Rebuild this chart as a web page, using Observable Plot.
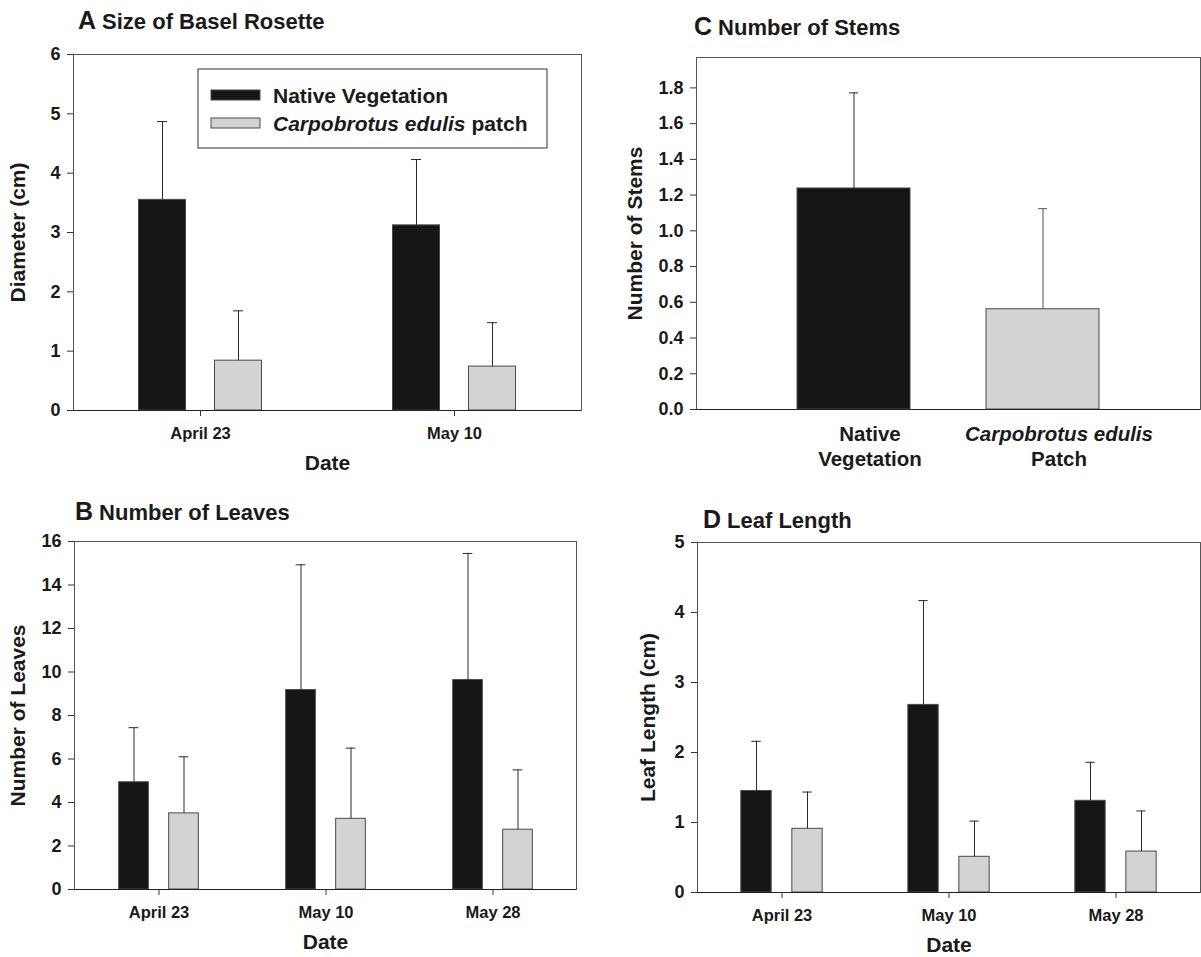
<!DOCTYPE html>
<html>
<head>
<meta charset="utf-8">
<script src="https://cdn.jsdelivr.net/npm/d3@7"></script>
<script src="https://cdn.jsdelivr.net/npm/@observablehq/plot@0.6"></script>
<style>
  body { margin: 0; background: #fff; }
  #root { position: relative; width: 1201px; height: 957px; overflow: hidden; background: #fff; }
  #root svg { position: absolute; overflow: visible; }
</style>
</head>
<body>
<div id="root"></div>
<script>
// ---------------- data ----------------
const seriesNames = ["Native Vegetation", "Carpobrotus edulis patch"];
const datesA = ["April 23", "May 10"];
const datesBD = ["April 23", "May 10", "May 28"];

// A  Size of Basel Rosette (diameter, cm)
const diamNative = [3.55, 3.12];
const diamNativeSE = [1.32, 1.11];
const diamCarpo = [0.84, 0.74];
const diamCarpoSE = [0.84, 0.74];
const ticksA = [0, 1, 2, 3, 4, 5, 6];

// B  Number of Leaves
const leavesNative = [4.93, 9.17, 9.63];
const leavesNativeSE = [2.51, 5.76, 5.82];
const leavesCarpo = [3.50, 3.25, 2.75];
const leavesCarpoSE = [2.60, 3.25, 2.75];
const ticksB = [0, 2, 4, 6, 8, 10, 12, 14, 16];

// C  Number of Stems
const stemCats = ["Native Vegetation", "Carpobrotus edulis Patch"];
const stemLabels = ["Native\nVegetation", "Carpobrotus edulis\nPatch"];
const stemMeans = [1.237, 0.561];
const stemSE = [0.535, 0.563];
const ticksC = [0, 0.2, 0.4, 0.6, 0.8, 1.0, 1.2, 1.4, 1.6, 1.8];

// D  Leaf Length (cm)
const lenNative = [1.45, 2.68, 1.31];
const lenNativeSE = [0.71, 1.49, 0.55];
const lenCarpo = [0.91, 0.51, 0.585];
const lenCarpoSE = [0.525, 0.51, 0.58];
const ticksD = [0, 1, 2, 3, 4, 5];

// ---------------- style ----------------
const FONT = '"Liberation Sans", Arial, Helvetica, sans-serif';
const INK = "#1a1a1a";
const BLACK = "#151515";
const GRAY = "#d3d3d3";
const OUTLINE = "#4a4a4a";
const ERR = "#2a2a2a";

const root = document.getElementById("root");

function place(svg, left, top) {
  svg.style.left = left + "px";
  svg.style.top = top + "px";
  root.appendChild(svg);
}

function addTitle(svg, x, y, letter, text) {
  const t = d3.select(svg).append("text")
    .attr("x", x).attr("y", y).attr("text-anchor", "start")
    .attr("fill", INK).attr("font-weight", "bold").attr("font-family", FONT);
  t.append("tspan").attr("font-size", 25).text(letter);
  t.append("tspan").attr("font-size", 22).attr("dx", 6).text(text);
}

function groupedPanel(o) {
  const n = o.dates.length;
  const step = (o.width - o.ml - o.mr) / n;
  const rows0 = o.dates.map((d, i) => ({date: d, mean: o.native[i], se: o.nativeSE[i]}));
  const rows1 = o.dates.map((d, i) => ({date: d, mean: o.carpo[i], se: o.carpoSE[i]}));
  const half = step / 2;
  const off = o.gap / 2 + o.barW / 2;
  const cap = 5;
  return Plot.plot({
    width: o.width, height: o.height,
    marginLeft: o.ml, marginRight: o.mr, marginTop: o.mt, marginBottom: o.mb,
    style: {fontFamily: FONT, fontWeight: "bold", color: INK, background: "transparent", overflow: "visible"},
    x: {type: "band", domain: o.dates, padding: 0},
    y: {domain: o.yDomain},
    marks: [
      Plot.barY(rows0, {x: "date", y: "mean", fill: BLACK, stroke: OUTLINE, strokeWidth: 1,
        insetLeft: half - o.gap / 2 - o.barW, insetRight: half + o.gap / 2}),
      Plot.barY(rows1, {x: "date", y: "mean", fill: GRAY, stroke: OUTLINE, strokeWidth: 1,
        insetLeft: half + o.gap / 2, insetRight: half - o.gap / 2 - o.barW}),
      Plot.ruleX(rows0, {x: "date", y1: "mean", y2: d => d.mean + d.se, dx: -off, stroke: ERR, strokeWidth: 1}),
      Plot.ruleX(rows1, {x: "date", y1: "mean", y2: d => d.mean + d.se, dx: off, stroke: ERR, strokeWidth: 1}),
      Plot.tickY(rows0, {x: "date", y: d => d.mean + d.se, dx: -off, insetLeft: half - cap, insetRight: half - cap, stroke: ERR, strokeWidth: 1}),
      Plot.tickY(rows1, {x: "date", y: d => d.mean + d.se, dx: off, insetLeft: half - cap, insetRight: half - cap, stroke: ERR, strokeWidth: 1}),
      Plot.frame({stroke: "#555"}),
      Plot.ruleY([0], {stroke: "#222"}),
      Plot.axisY({ticks: o.yTicks, tickFormat: d3.format("d"), tickSize: 6, tickPadding: 7, fontSize: 18, label: null, stroke: "#333"}),
      Plot.axisX({tickSize: 6, tickPadding: 11, fontSize: 16.5, label: null, stroke: "#333"}),
      Plot.text([o.yLabel], {frameAnchor: "left", textAnchor: "middle", rotate: -90, dx: o.yLabelDx, fontSize: 21, fontWeight: "bold"}),
      Plot.text(["Date"], {frameAnchor: "bottom", dy: 59, fontSize: 21, fontWeight: "bold"})
    ]
  });
}

// ---------- Panel A ----------
const svgA = groupedPanel({
  width: 600, height: 480, ml: 73, mr: 19, mt: 54, mb: 70,
  dates: datesA, native: diamNative, nativeSE: diamNativeSE, carpo: diamCarpo, carpoSE: diamCarpoSE,
  yDomain: [0, 6], yTicks: ticksA, yLabel: "Diameter (cm)", yLabelDx: -55, barW: 47, gap: 29
});
place(svgA, 0, 0);
addTitle(svgA, 78, 29, "A", "Size of Basel Rosette");
{
  const g = d3.select(svgA).append("g").attr("font-family", FONT).attr("fill", INK).attr("text-anchor", "start");
  g.append("rect").attr("x", 198).attr("y", 69).attr("width", 349).attr("height", 79)
    .attr("fill", "#fff").attr("stroke", "#333");
  g.append("rect").attr("x", 211).attr("y", 90).attr("width", 49).attr("height", 10)
    .attr("fill", BLACK).attr("stroke", OUTLINE);
  g.append("text").attr("x", 273).attr("y", 103).attr("font-size", 21).attr("font-weight", "bold")
    .attr("text-anchor", "start").attr("fill", INK).text(seriesNames[0]);
  g.append("rect").attr("x", 211).attr("y", 118).attr("width", 49).attr("height", 10)
    .attr("fill", GRAY).attr("stroke", OUTLINE);
  const t2 = g.append("text").attr("x", 273).attr("y", 131).attr("font-size", 21)
    .attr("text-anchor", "start").attr("font-weight", "bold").attr("fill", INK);
  t2.append("tspan").attr("font-style", "italic").text("Carpobrotus edulis");
  t2.append("tspan").attr("dx", 6).text("patch");
}

// ---------- Panel B ----------
const svgB = groupedPanel({
  width: 600, height: 477, ml: 74, mr: 24, mt: 61, mb: 68,
  dates: datesBD, native: leavesNative, nativeSE: leavesNativeSE, carpo: leavesCarpo, carpoSE: leavesCarpoSE,
  yDomain: [0, 16], yTicks: ticksB, yLabel: "Number of Leaves", yLabelDx: -56, barW: 30, gap: 20
});
place(svgB, 0, 480);
addTitle(svgB, 75, 40, "B", "Number of Leaves");

// ---------- Panel C ----------
const stemRows = stemCats.map((c, i) => ({cat: c, label: stemLabels[i], mean: stemMeans[i], se: stemSE[i]}));
const svgC = Plot.plot({
  width: 601, height: 480, marginLeft: 96, marginRight: 1, marginTop: 57, marginBottom: 71,
  style: {fontFamily: FONT, fontWeight: "bold", color: INK, background: "transparent", overflow: "visible"},
  x: {type: "band", domain: stemCats, paddingInner: 0.4, paddingOuter: 0.53, axis: null},
  y: {domain: [0, 1.97]},
  marks: [
    Plot.barY(stemRows, {x: "cat", y: "mean", fill: (d, i) => i === 0 ? BLACK : GRAY, stroke: OUTLINE, strokeWidth: 1}),
    Plot.ruleX(stemRows, {x: "cat", y1: "mean", y2: d => d.mean + d.se, stroke: (d, i) => i === 0 ? ERR : "#555", strokeWidth: 1}),
    Plot.tickY(stemRows, {x: "cat", y: d => d.mean + d.se, insetLeft: 52, insetRight: 52, stroke: (d, i) => i === 0 ? ERR : "#555", strokeWidth: 1}),
    Plot.frame({stroke: "#555"}),
    Plot.ruleY([0], {stroke: "#222"}),
    Plot.axisY({ticks: ticksC, tickFormat: d3.format(".1f"), tickSize: 6, tickPadding: 7, fontSize: 18, label: null, stroke: "#333"}),
    Plot.text(stemRows, {x: "cat", text: "label", frameAnchor: "bottom", lineAnchor: "top", dy: 13.5, dx: 16,
      fontSize: 20.5, fontWeight: "bold", lineHeight: 1.22}),
    Plot.text(["Number of Stems"], {frameAnchor: "left", textAnchor: "middle", rotate: -90, dx: -61, fontSize: 21, fontWeight: "bold"})
  ]
});
place(svgC, 600, 0);
d3.select(svgC).selectAll("tspan").filter(function() { return this.textContent === "Carpobrotus edulis"; })
  .attr("font-style", "italic");
addTitle(svgC, 94, 35, "C", "Number of Stems");

// ---------- Panel D ----------
const svgD = groupedPanel({
  width: 601, height: 477, ml: 97, mr: 1, mt: 62, mb: 65,
  dates: datesBD, native: lenNative, nativeSE: lenNativeSE, carpo: lenCarpo, carpoSE: lenCarpoSE,
  yDomain: [0, 5], yTicks: ticksD, yLabel: "Leaf Length (cm)", yLabelDx: -49, barW: 31, gap: 20
});
place(svgD, 600, 480);
addTitle(svgD, 103, 48, "D", "Leaf Length");
</script>
</body>
</html>
